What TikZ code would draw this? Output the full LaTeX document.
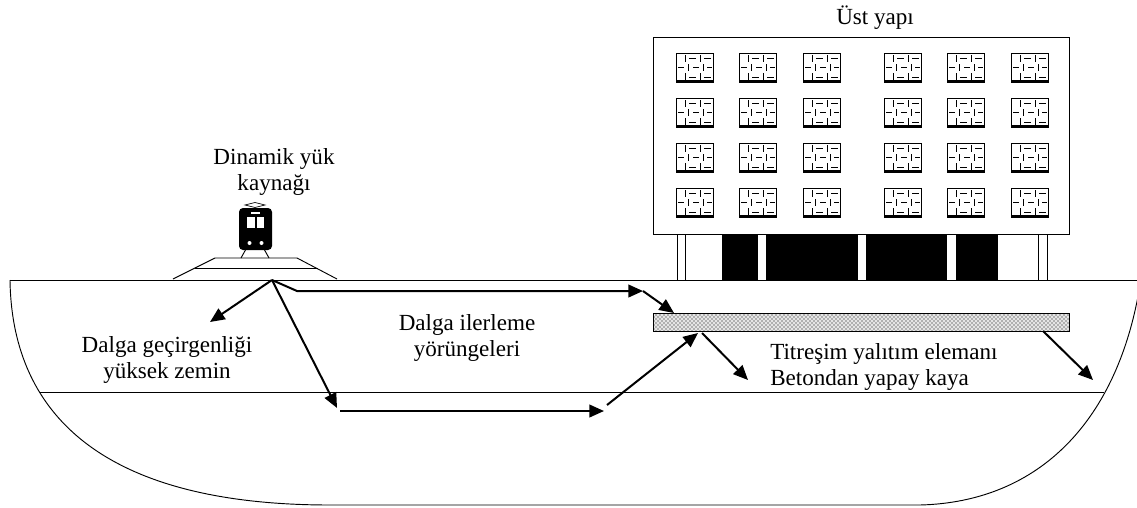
\documentclass[tikz,border=0pt]{standalone}
\usepackage{fontspec}
\setmainfont{Liberation Serif}
\usetikzlibrary{arrows.meta}
\usetikzlibrary{patterns}

\tikzset{
  yer/.style={line width=0.7pt},
  dalga/.style={line width=1.5pt, -{Triangle[length=11pt,width=9.5pt]}},
  yazi/.style={font=\fontsize{17.3}{19.5}\selectfont, align=center, inner sep=0pt},
  pencere/.pic={
    \draw[line width=0.6pt] (0,0) rectangle (37,29);
    \draw[line width=0.5pt] (9,2)--(9,9) (24,2)--(24,9) (13,5)--(20,5) (28,5)--(35,5)
      (2,14)--(8,14) (17,14)--(23,14) (31,14)--(36,14) (12,11)--(12,18) (27,11)--(27,18)
      (9,20)--(9,27) (24,20)--(24,27) (13,24)--(20,24) (28,24)--(35,24);
    \draw[line width=0.9pt] (0,28)--(37,28);
  }
}

\begin{document}
\begin{tikzpicture}[x=0.75pt,y=-0.75pt]
        \useasboundingbox (0,0) rectangle (1137,507);
        % zemin
        \draw[yer] (10,280) -- (1137,280);
        \draw[yer] (10,280) .. controls (12,420) and (110,505) .. (330,505) -- (920,505)
              .. controls (1040,502) and (1118,420) .. (1140,285);
        \draw[yer] (40,392) -- (1104,392);
        % bina
        \draw[yer] (653,37) rectangle (1069,234);
        \foreach \x in {676,739,803,884,947,1011}
            \foreach \y in {53,98,143,188}
                \pic at (\x,\y) {pencere};
        \draw[yer] (677,234)--(677,280) (685,234)--(685,280);
        \draw[yer] (1038,234)--(1038,280) (1047,234)--(1047,280);
        \fill (722,234) rectangle (758,280);
        \fill (766,234) rectangle (858,280);
        \fill (866,234) rectangle (947,280);
        \fill (956,234) rectangle (998,280);
        % yalitim elemani
        \draw[yer, fill=black!10] (653,313) rectangle (1069,331);
        \fill[pattern=crosshatch dots] (653,313) rectangle (1069,331);
        \draw[yer] (653,313) rectangle (1069,331);
        % tren ve yol
        \draw[yer] (173,279)--(215,258)--(297,258)--(337,279);
        \draw[yer] (195,268)--(318,268);
        \draw[yer] (246,249)--(241,258) (264,249)--(269,258);
        \fill[rounded corners=3pt] (239,208) rectangle (272,250);
        \fill[white] (247,217) rectangle (255,228);
        \fill[white] (256.5,217) rectangle (264,228);
        \fill[white] (251,211.5) rectangle (260,213.5);
        \fill[white] (249.5,243) circle [radius=1.5pt];
        \fill[white] (261.5,243) circle [radius=1.5pt];
        \draw[line width=0.5pt] (245,205)--(255,202.5)--(265,205)--(255,207.5)--cycle;
        % etiketler
        \node[yazi] (ust) at (875,18) {Üst yapı};
        \node[yazi] (kaynak) at (274,172) {Dinamik yük\\kaynağı};
        \node[yazi] (zemin) at (167,360) {Dalga geçirgenliği\\yüksek zemin};
        \node[yazi] (yorunge) at (467,338) {Dalga ilerleme\\yörüngeleri};
        \node[yazi, align=left, anchor=west] (eleman) at (770,367) {Titreşim yalıtım elemanı\\Betondan yapay kaya};
        % dalga yollari
        \coordinate (src) at (272,280);
        \coordinate (k1) at (210,322);
        \coordinate (d1) at (297,291);
        \coordinate (d2) at (643,291);
        \coordinate (d3) at (674,313);
        \coordinate (a1) at (337,408);
        \coordinate (a2) at (340,411);
        \coordinate (a3) at (604,411);
        \coordinate (a4) at (607,405);
        \coordinate (a5) at (698,333);
        \coordinate (b1) at (702,333);
        \coordinate (b2) at (748,380);
        \coordinate (c1) at (1043,331);
        \coordinate (c2) at (1093,380);
        \draw[dalga] (src) -- (k1);
        \draw[dalga] (src) -- (d1) -- (d2);
        \draw[dalga] (d2) -- (d3);
        \draw[dalga] (src) -- (a1);
        \draw[dalga] (a2) -- (a3);
        \draw[dalga] (a4) -- (a5);
        \draw[dalga] (b1) -- (b2);
        \draw[dalga] (c1) -- (c2);
    \end{tikzpicture}
\end{document}
